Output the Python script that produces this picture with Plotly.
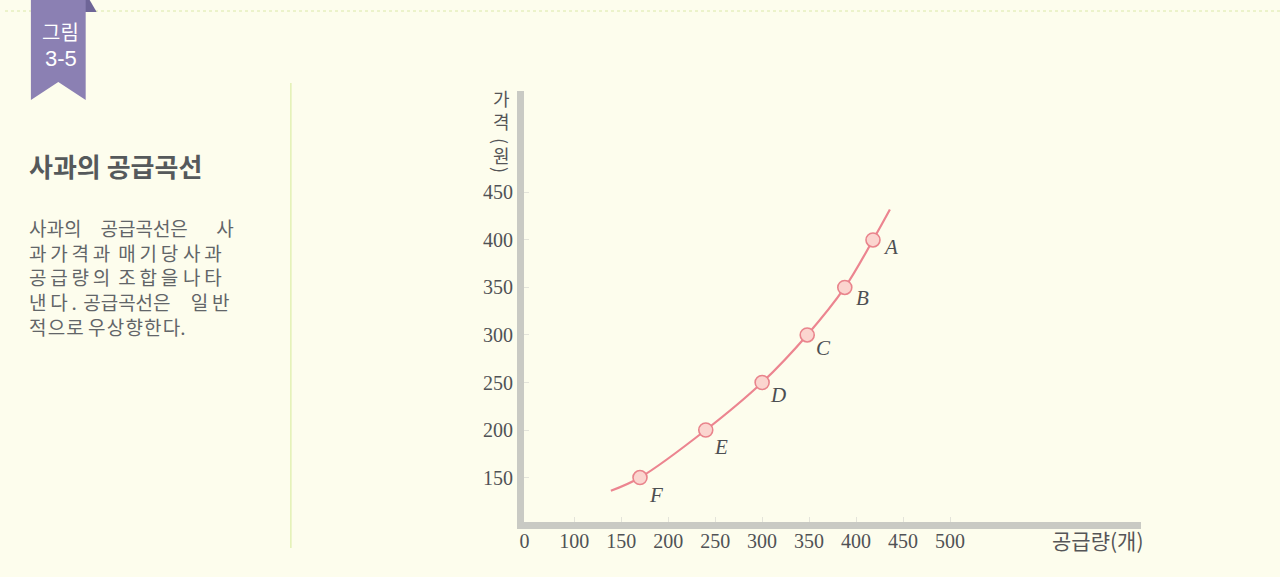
import plotly.graph_objects as go

# ---------------- data ----------------
point_names = ["A", "B", "C", "D", "E", "F"]
quantity = [418, 388, 348, 300, 240, 170]
price = [400, 350, 300, 250, 200, 150]

curve_quantity = [139, 170, 240, 300, 348, 388, 418, 436]
curve_price = [136, 150, 200, 250, 300, 350, 400, 432]

x_tick_vals = [47, 100, 150, 200, 250, 300, 350, 400, 450, 500]
x_tick_text = ["0", "100", "150", "200", "250", "300", "350", "400", "450", "500"]
y_tick_vals = [150, 200, 250, 300, 350, 400, 450]

label_shift = {"A": (18, -7), "B": (18, -11), "C": (16, -13), "D": (16, -12),
               "E": (15, -17), "F": (16, -17)}

title_text = "사과의 공급곡선"

# justified paragraph, built from words with typographic spaces
HAIR = "\u200a"
THIN = "\u2009"
EN = "\u2002"
EM = "\u2003"
THIRD = "\u2004"
QUARTER = "\u2005"
SIXTH = "\u2006"

para_lines = [
    "사과의" + EM + "공급곡선은" + EM + EN + "사",
    THIN.join("과가격과") + QUARTER + SIXTH + THIN.join("매기당") + QUARTER + THIN.join("사과"),
    THIN.join("공급량의") + QUARTER + SIXTH + THIN.join("조합을") + QUARTER + THIN.join("나타"),
    THIN.join("낸다.") + THIRD + "공급곡선은" + EM + HAIR + THIN.join("일반"),
    HAIR.join("적으로") + " " + HAIR.join("우상향한다") + ".",
]

W, H = 1280, 577
BG = "#fdfded"
CJK = "Noto Sans CJK KR"
SERIF = "Liberation Serif"


def px(x):
    return x / W


def py(y):
    return 1 - y / H


fig = go.Figure()

fig.add_trace(go.Scatter(
    x=curve_quantity, y=curve_price, mode="lines",
    line=dict(color="#ec8590", width=2.2, shape="spline", smoothing=1.0),
    hoverinfo="skip", showlegend=False))

fig.add_trace(go.Scatter(
    x=quantity, y=price, mode="markers",
    marker=dict(size=14, color="#fbd5cf", line=dict(color="#e9848c", width=1.6)),
    showlegend=False))

annotations = []
for n, q, p in zip(point_names, quantity, price):
    dx, dy = label_shift[n]
    annotations.append(dict(
        x=q, y=p, xref="x", yref="y", text=n, showarrow=False,
        xshift=dx, yshift=dy, xanchor="center", yanchor="middle",
        font=dict(family=SERIF, size=21, color="#4d4f52", style="italic")))

# y axis title (stacked vertical)
YT = dict(family=CJK, size=18, color="#555557")
annotations.append(dict(x=px(498), y=py(110), xref="paper", yref="paper",
                        text="가<br>격", showarrow=False, xanchor="center", yanchor="middle", font=YT))
for ch, yy, ang in [("(", 141, 90), ("원", 155, 0), (")", 170, 90)]:
    annotations.append(dict(x=px(498), y=py(yy), xref="paper", yref="paper",
                            text=ch, showarrow=False, xanchor="center", yanchor="middle",
                            textangle=ang, font=YT))

# x axis title
annotations.append(dict(x=px(1144), y=py(540), xref="paper", yref="paper",
                        text="공급량(개)", showarrow=False, xanchor="right", yanchor="middle",
                        font=dict(family=CJK, size=21, color="#555557")))

# badge text
annotations.append(dict(x=px(56), y=py(32), xref="paper", yref="paper", text="그림",
                        showarrow=False, xanchor="center", yanchor="middle",
                        font=dict(family=CJK, size=20, color="white")))
annotations.append(dict(x=px(56), y=py(58), xref="paper", yref="paper", text="3-5",
                        showarrow=False, xanchor="center", yanchor="middle",
                        font=dict(family="Liberation Sans", size=22, color="white")))

# title
annotations.append(dict(x=px(22), y=py(165), xref="paper", yref="paper", text="<b>" + title_text + "</b>",
                        showarrow=False, xanchor="left", yanchor="middle",
                        font=dict(family=CJK, size=26, color="#55595b")))

# paragraph (one block, 19px => 24.7px line pitch)
annotations.append(dict(x=px(23), y=py(277.5), xref="paper", yref="paper",
                        text="<br>".join(para_lines), showarrow=False,
                        xanchor="left", yanchor="middle", align="left", borderpad=0,
                        font=dict(family=CJK, size=19, color="#626568")))

shapes = [
    # top dotted rule
    dict(type="line", xref="paper", yref="paper", x0=0, x1=1, y0=py(11), y1=py(11),
         line=dict(color="#dbe8a8", width=1, dash="dot")),
    # vertical separator
    dict(type="line", xref="paper", yref="paper", x0=px(287), x1=px(287), y0=py(83), y1=py(548),
         line=dict(color="#dcedA6", width=1.2)),
    # badge fold
    dict(type="path", xref="paper", yref="paper",
         path=f"M {px(80)},{py(0)} L {px(85)},{py(0)} L {px(92)},{py(12)} L {px(80)},{py(12)} Z",
         fillcolor="#6e6597", line=dict(width=0)),
    # badge
    dict(type="path", xref="paper", yref="paper",
         path=(f"M {px(26)},{py(0)} L {px(81)},{py(0)} L {px(81)},{py(100)} "
               f"L {px(53.5)},{py(82)} L {px(26)},{py(100)} Z"),
         fillcolor="#8b80b3", line=dict(width=0)),
]

fig.update_layout(
    width=W, height=H, margin=dict(l=0, r=0, t=0, b=0),
    paper_bgcolor=BG, plot_bgcolor=BG,
    annotations=annotations, shapes=shapes,
    xaxis=dict(domain=[px(521), px(1140)], range=[46.5, 702.8],
               tickvals=x_tick_vals, ticktext=x_tick_text,
               showgrid=False, zeroline=False, showline=True, linecolor="#c9cac4", linewidth=7,
               ticks="inside", ticklen=5, tickcolor="#e4e4da", tickwidth=1, ticklabelstandoff=-5,
               tickfont=dict(family=SERIF, size=20, color="#505255"), fixedrange=True),
    yaxis=dict(domain=[py(521.5), py(91)], range=[103.7, 556.8],
               tickvals=y_tick_vals,
               showgrid=False, zeroline=False, showline=True, linecolor="#c9cac4", linewidth=7,
               ticks="inside", ticklen=5, tickcolor="#e4e4da", tickwidth=1,
               tickfont=dict(family=SERIF, size=20, color="#505255"), fixedrange=True),
)

fig.write_html("out.html", config={"displayModeBar": False},
               post_script="document.body.style.margin='0';document.body.style.overflow='hidden';")
